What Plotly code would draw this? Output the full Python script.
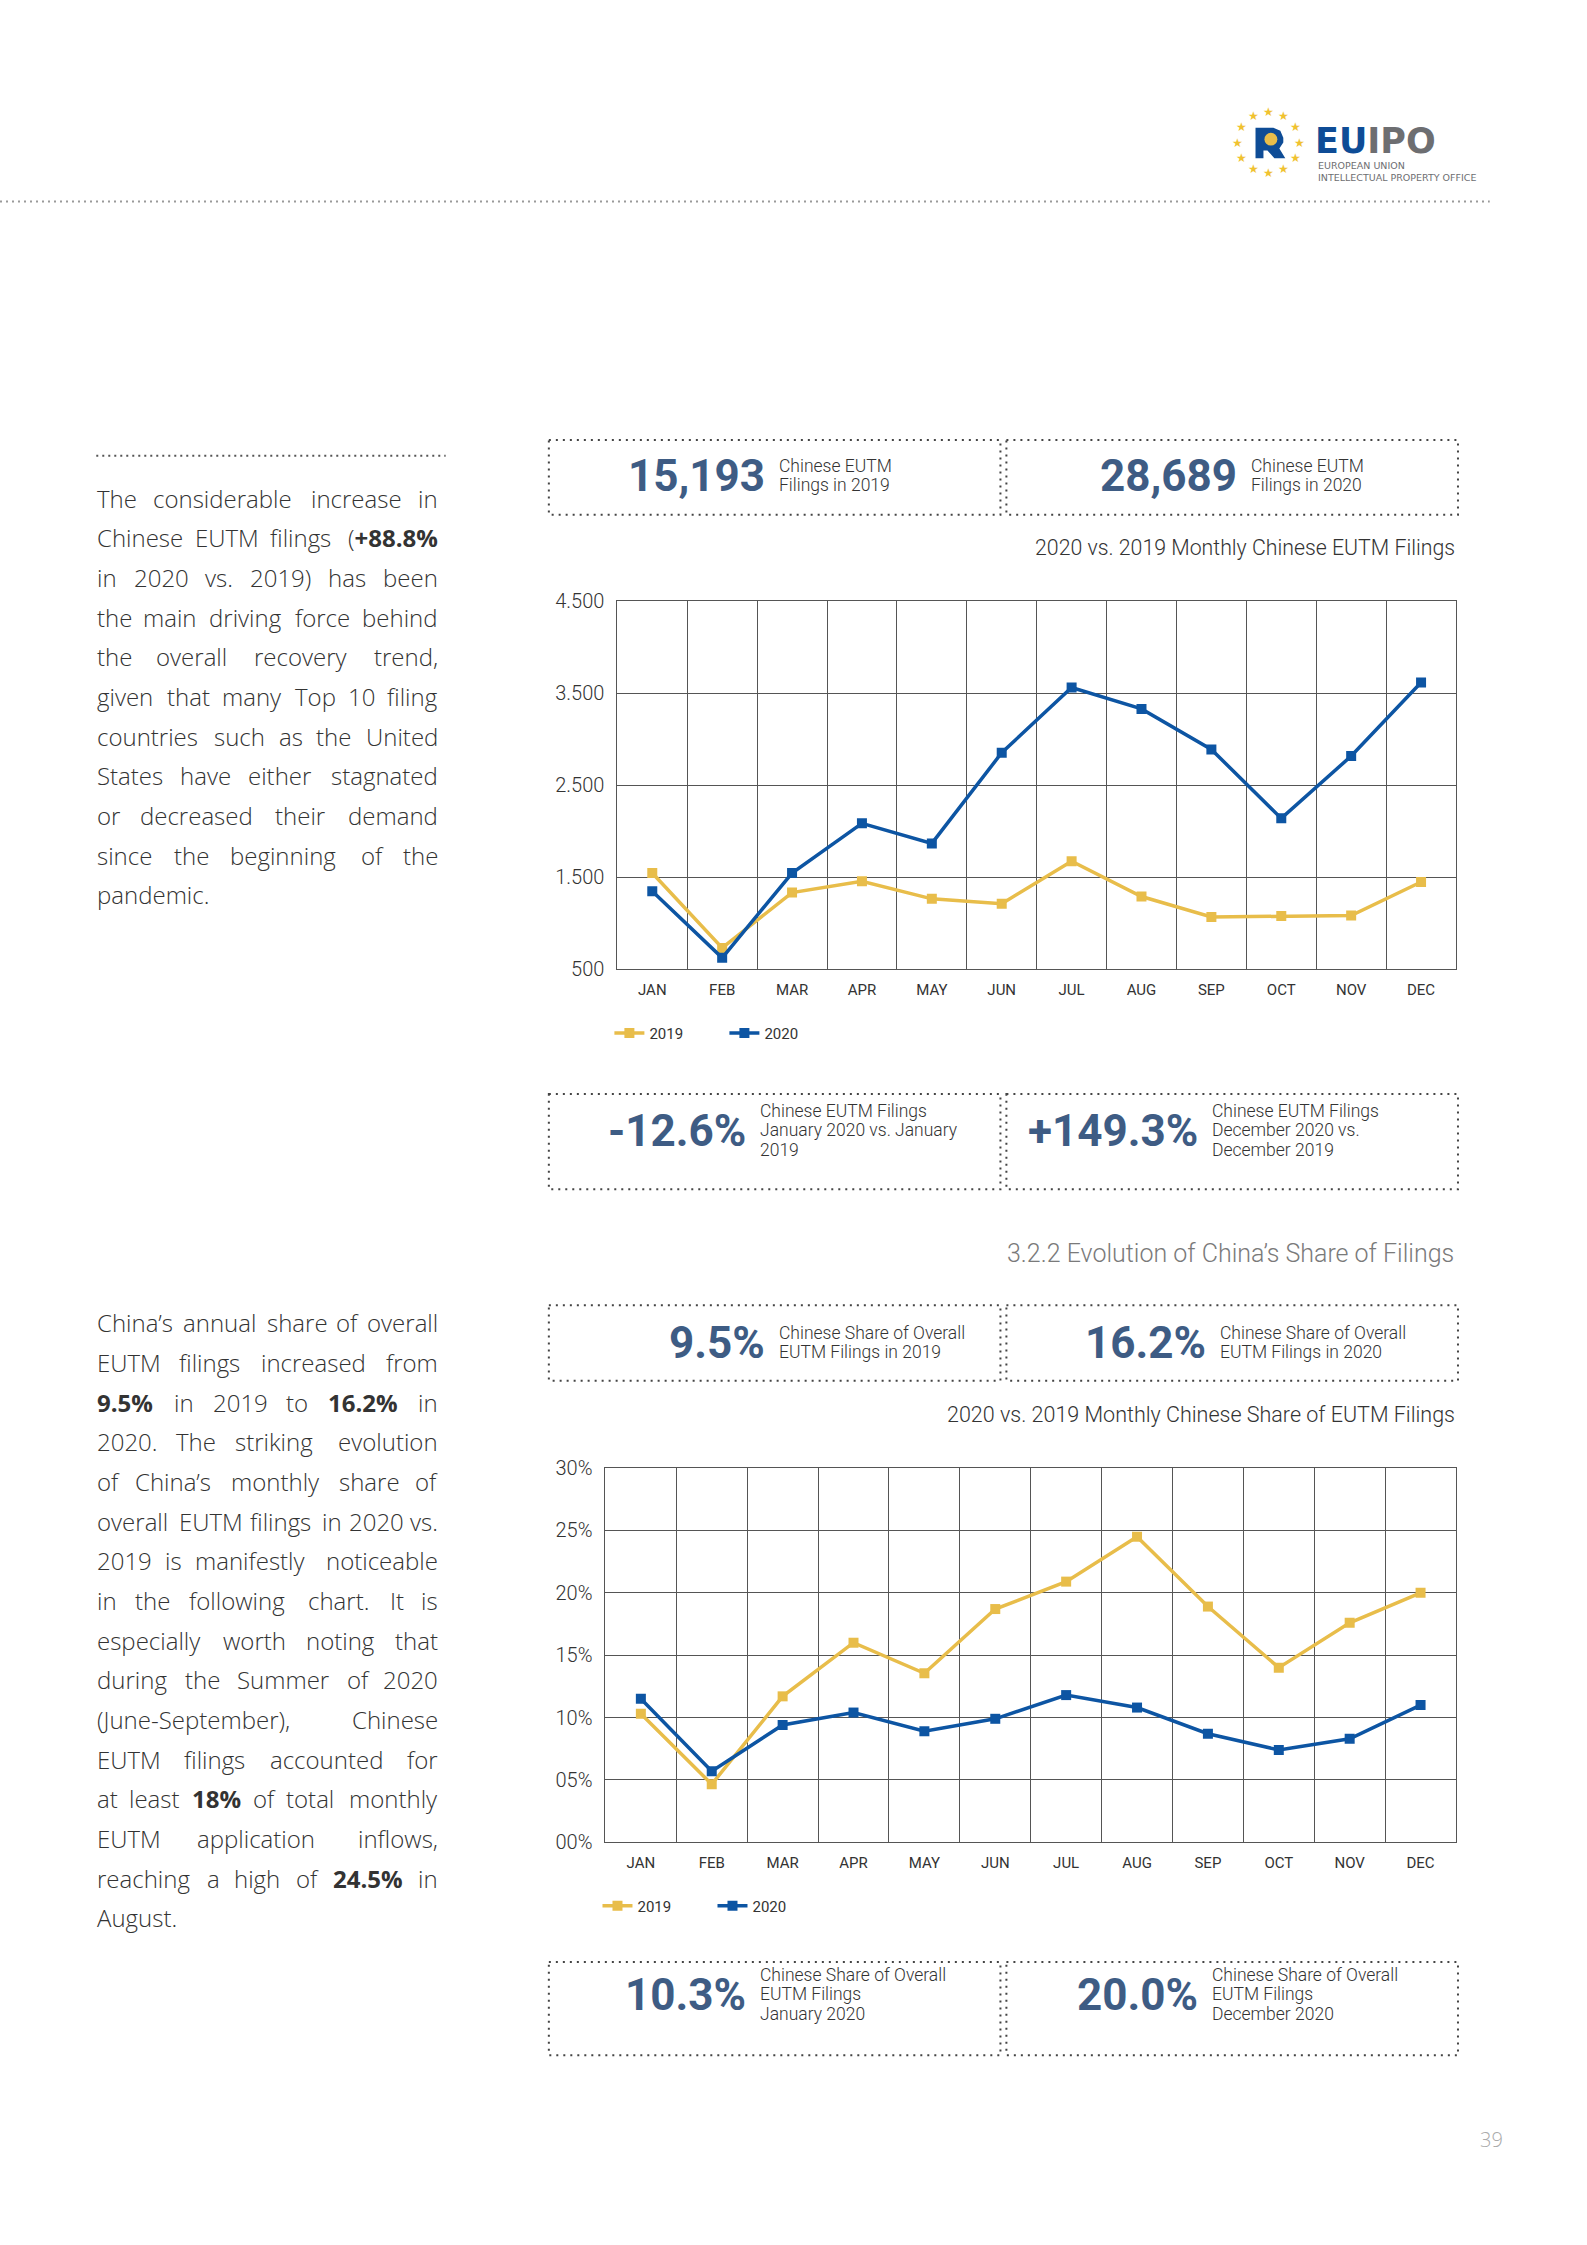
import re
import math
import plotly.graph_objects as go

W, H = 1587, 2245
K = 0.9925  # page-scale correction for positions measured on the reference

# ---------------- data ----------------
months = ["JAN", "FEB", "MAR", "APR", "MAY", "JUN", "JUL", "AUG", "SEP", "OCT", "NOV", "DEC"]

filings_2019 = [1546, 733, 1334, 1456, 1266, 1213, 1675, 1291, 1069, 1080, 1084, 1449]
filings_2020 = [1349, 625, 1546, 2086, 1868, 2853, 3562, 3329, 2889, 2140, 2817, 3616]
filings_tickvals = [500, 1500, 2500, 3500, 4500]
filings_ticktext = ["500", "1.500", "2.500", "3.500", "4.500"]

share_2019 = [10.3, 4.65, 11.7, 16.0, 13.55, 18.7, 20.9, 24.5, 18.9, 14.0, 17.6, 20.0]
share_2020 = [11.5, 5.7, 9.4, 10.4, 8.9, 9.9, 11.8, 10.8, 8.7, 7.4, 8.3, 11.0]
share_tickvals = [0, 5, 10, 15, 20, 25, 30]
share_ticktext = ["00%", "05%", "10%", "15%", "20%", "25%", "30%"]

series_names = ["2019", "2020"]

stat_rows = [
    [("15,193", ["Chinese EUTM", "Filings in 2019"]), ("28,689", ["Chinese EUTM", "Filings in 2020"])],
    [("-12.6%", ["Chinese EUTM Filings", "January 2020 vs. January", "2019"]),
     ("+149.3%", ["Chinese EUTM Filings", "December 2020 vs.", "December 2019"])],
    [("9.5%", ["Chinese Share of Overall", "EUTM Filings in 2019"]),
     ("16.2%", ["Chinese Share of Overall", "EUTM Filings in 2020"])],
    [("10.3%", ["Chinese Share of Overall", "EUTM Filings", "January 2020"]),
     ("20.0%", ["Chinese Share of Overall", "EUTM Filings", "December 2020"])],
]

para1 = [
    "The considerable increase in",
    "Chinese EUTM filings (<b>+88.8%</b>",
    "in 2020 vs. 2019) has been",
    "the main driving force behind",
    "the overall recovery trend,",
    "given that many Top 10 filing",
    "countries such as the United",
    "States have either stagnated",
    "or decreased their demand",
    "since the beginning of the",
    "pandemic.",
]
para2 = [
    "China’s annual share of overall",
    "EUTM filings increased from",
    "<b>9.5%</b> in 2019 to <b>16.2%</b> in",
    "2020. The striking evolution",
    "of China’s monthly share of",
    "overall EUTM filings in 2020 vs.",
    "2019 is manifestly noticeable",
    "in the following chart. It is",
    "especially worth noting that",
    "during the Summer of 2020",
    "(June-September), Chinese",
    "EUTM filings accounted for",
    "at least <b>18%</b> of total monthly",
    "EUTM application inflows,",
    "reaching a high of <b>24.5%</b> in",
    "August.",
]

# ---------------- styles ----------------
YELLOW = "#E8BD4A"
BLUE = "#0D55A3"
NUMCOL = "#3E5C84"
TXT = "#333333"
GRID = "#555555"
NARROW = "Roboto, sans-serif"
BODY = "Open Sans, sans-serif"


def X(p):
    return p * K / W


def Y(p):
    return 1 - p * K / H


annotations = []
shapes = []


def txt(text, x, y, size, color=TXT, family=NARROW, xanchor="left", yanchor="middle", weight=None):
    font = dict(size=size, color=color, family=family)
    if weight is not None:
        font["weight"] = weight
    annotations.append(dict(text=text, x=X(x), y=Y(y), xref="paper", yref="paper",
                            xanchor=xanchor, yanchor=yanchor, showarrow=False, font=font,
                            borderpad=0))


def dline(x0, y0, x1, y1, color="#444444", width=2, dash="2px,5px"):
    shapes.append(dict(type="line", xref="paper", yref="paper", x0=X(x0), y0=Y(y0),
                       x1=X(x1), y1=Y(y1), line=dict(color=color, width=width, dash=dash)))


def drect(x0, y0, x1, y1, color="#444444", width=2, dash="2px,5px"):
    shapes.append(dict(type="rect", xref="paper", yref="paper", x0=X(x0), y0=Y(y0),
                       x1=X(x1), y1=Y(y1), line=dict(color=color, width=width, dash=dash)))


# ---------------- Open Sans width estimate for justified text ----------------
OS_W = {" ": 532, "a": 1139, "b": 1255, "c": 975, "d": 1255, "e": 1149, "f": 694, "g": 1122,
        "h": 1257, "i": 518, "j": 518, "k": 1075, "l": 518, "m": 1905, "n": 1257, "o": 1237,
        "p": 1255, "q": 1255, "r": 836, "s": 977, "t": 723, "u": 1257, "v": 1026, "w": 1593,
        "x": 1073, "y": 1028, "z": 977, "A": 1296, "B": 1327, "C": 1292, "D": 1493, "E": 1139,
        "F": 1057, "G": 1491, "H": 1511, "I": 571, "J": 547, "K": 1257, "L": 1063, "M": 1849,
        "N": 1544, "O": 1595, "P": 1233, "Q": 1595, "R": 1266, "S": 1124, "T": 1133, "U": 1499,
        "V": 1214, "W": 1849, "X": 1198, "Y": 1155, "Z": 1151, ".": 545, ",": 500, "(": 578,
        ")": 578, "%": 1702, "+": 1171, "-": 659, "’": 379, "'": 387}


def _segments(word):
    out = []
    pos = 0
    for m in re.finditer(r"<b>(.*?)</b>", word):
        if m.start() > pos:
            out.append((word[pos:m.start()], False))
        out.append((m.group(1), True))
        pos = m.end()
    if pos < len(word):
        out.append((word[pos:], False))
    return out


def word_width(word, size):
    total = 0.0
    for seg, bold in _segments(word):
        for ch in seg:
            total += OS_W.get(ch, 1171) * (1.08 if bold else 1.0)
    return total / 2048 * size


def paragraph(lines, x0, x1, y0, dy, size):
    for i, line in enumerate(lines):
        y = y0 + i * dy
        words = line.split(" ")
        last = i == len(lines) - 1
        if last or len(words) == 1:
            txt(line, x0, y, size, color=TXT, family=BODY, weight=300)
            continue
        widths = [word_width(w, size) for w in words]
        gap = ((x1 - x0) * K - sum(widths)) / (len(words) - 1)
        pos = x0
        for k, w in enumerate(words):
            if k == len(words) - 1:
                txt(w, x1, y, size, color=TXT, family=BODY, xanchor="right", weight=300)
            else:
                txt(w, pos, y, size, color=TXT, family=BODY, weight=300)
            pos += (widths[k] + gap) / K


# ---------------- figure ----------------
fig = go.Figure()

for vals, name, col in [(filings_2019, series_names[0], YELLOW), (filings_2020, series_names[1], BLUE)]:
    fig.add_trace(go.Scatter(x=months, y=vals, name=name, mode="lines+markers",
                             line=dict(color=col, width=3.5),
                             marker=dict(symbol="square", size=10, color=col),
                             xaxis="x", yaxis="y", legend="legend", hoverinfo="skip"))

for vals, name, col in [(share_2019, series_names[0], YELLOW), (share_2020, series_names[1], BLUE)]:
    fig.add_trace(go.Scatter(x=months, y=vals, name=name, mode="lines+markers",
                             line=dict(color=col, width=3.5),
                             marker=dict(symbol="square", size=10, color=col),
                             xaxis="x2", yaxis="y2", legend="legend2", hoverinfo="skip"))

axis_common = dict(showgrid=True, gridcolor=GRID, gridwidth=1, showline=True, mirror=True,
                   linecolor=GRID, linewidth=1, zeroline=False, ticks="")

C1 = dict(l=622, r=1467, t=600, b=975)
C2 = dict(l=610, r=1467, t=1483, b=1864)

xax = dict(type="category", tickson="boundaries", range=[-0.5, 11.5],
           tickfont=dict(family=NARROW, size=15, color=TXT), ticklabelstandoff=7, **axis_common)
yfont = dict(family=NARROW, size=20, color=TXT, weight=300)
fig.update_layout(
    xaxis=dict(domain=[X(C1["l"]), X(C1["r"])], anchor="y", **xax),
    yaxis=dict(domain=[Y(C1["b"]), Y(C1["t"])], anchor="x", range=[500, 4500],
               tickvals=filings_tickvals, ticktext=filings_ticktext,
               tickfont=yfont, ticklabelstandoff=8, **axis_common),
    xaxis2=dict(domain=[X(C2["l"]), X(C2["r"])], anchor="y2", **xax),
    yaxis2=dict(domain=[Y(C2["b"]), Y(C2["t"])], anchor="x2", range=[0, 30],
                tickvals=share_tickvals, ticktext=share_ticktext,
                tickfont=yfont, ticklabelstandoff=8, **axis_common),
)

leg_common = dict(orientation="h", xanchor="left", yanchor="middle", bgcolor="rgba(0,0,0,0)",
                  font=dict(family=NARROW, size=15, color=TXT), itemwidth=30,
                  entrywidth=70, entrywidthmode="pixels", traceorder="normal")
fig.update_layout(
    legend=dict(x=X(614), y=Y(1040), **leg_common),
    legend2=dict(x=X(602), y=Y(1929), **leg_common),
)

# ---------------- header / logo ----------------
dline(0, 193, 1501, 193, color="#9a9a9a", width=2, dash="2px,4px")
cx, cy, rr = 1278, 133, 31
for k in range(12):
    a = math.radians(90 - 30 * k)
    txt("★", cx + rr * math.cos(a), cy - rr * math.sin(a), 12, color="#F0C230",
        family="DejaVu Sans", xanchor="center")


def pth(points):
    return "M " + " L ".join(f"{X(px):.6f},{Y(py):.6f}" for px, py in points) + " Z"


shapes.append(dict(type="path", xref="paper", yref="paper", fillcolor="#0E4C96", line=dict(width=0),
                   path=pth([(1265, 118), (1283, 118), (1290, 121), (1293, 128), (1293, 133),
                             (1289, 139), (1295, 149), (1284, 149), (1277, 141), (1273, 141),
                             (1273, 149), (1265, 149)])))
shapes.append(dict(type="circle", xref="paper", yref="paper", fillcolor="#E8BD4A", line=dict(width=0),
                   x0=X(1274), x1=X(1287), y0=Y(136), y1=Y(123)))
txt("<b><span style='color:#0E4C96'>EU</span><span style='color:#6d6e71'>IPO</span></b>",
    1324, 131, 35, family="DejaVu Sans", color="#0E4C96")
txt("EUROPEAN UNION<br>INTELLECTUAL PROPERTY OFFICE", 1327, 150, 9.5, color="#6d6e71",
    family="DejaVu Sans", yanchor="top")
annotations[-1]["align"] = "left"

# ---------------- left text ----------------
dline(97, 452, 449, 452, color="#555555", width=2, dash="2px,4px")
paragraph(para1, 97, 442, 495, 40.4, 24)
paragraph(para2, 97, 442, 1335, 40.4, 24)

# ---------------- stat boxes ----------------
box_rows = [(436, 512, 473, 19.0), (1102, 1199, 1140, 19.5), (1317, 1394, 1356, 19.5), (1986, 2081, 2020, 19.5)]
num_right = [[772, 1247], [753, 1208], [772, 1216], [753, 1208]]
for (top, bot, ymid, ldy), row, rights in zip(box_rows, stat_rows, num_right):
    drect(553, top, 1008, bot)
    drect(1014, top, 1469, bot)
    for (num, lab), xr in zip(row, rights):
        txt(f"<b>{num}</b>", xr, ymid, 44, color=NUMCOL, xanchor="right")
        n = len(lab)
        y0 = ymid - (n - 1) * ldy / 2 - 1
        for j, l in enumerate(lab):
            txt(l, xr + 12, y0 + j * ldy, 17.5, color=TXT, weight=300)

# ---------------- titles ----------------
txt("2020 vs. 2019 Monthly Chinese EUTM Filings", 1467, 545, 21.3, xanchor="right", weight=300)
txt("3.2.2 Evolution of China’s Share of Filings", 1466, 1264, 25, color="#7a7a7a", xanchor="right", weight=300)
txt("2020 vs. 2019 Monthly Chinese Share of EUTM Filings", 1467, 1428, 21.5, xanchor="right", weight=300)
txt("39", 1515, 2167, 20, color="#aaaaaa", xanchor="right", family=BODY, weight=300)

fig.update_layout(
    width=W, height=H, autosize=False,
    margin=dict(l=0, r=0, t=0, b=0),
    paper_bgcolor="white", plot_bgcolor="white",
    annotations=annotations, shapes=shapes,
)

fig.write_html("out.html", config={"displayModeBar": False},
               post_script="document.body.style.margin='0px';document.body.style.padding='0px';")
